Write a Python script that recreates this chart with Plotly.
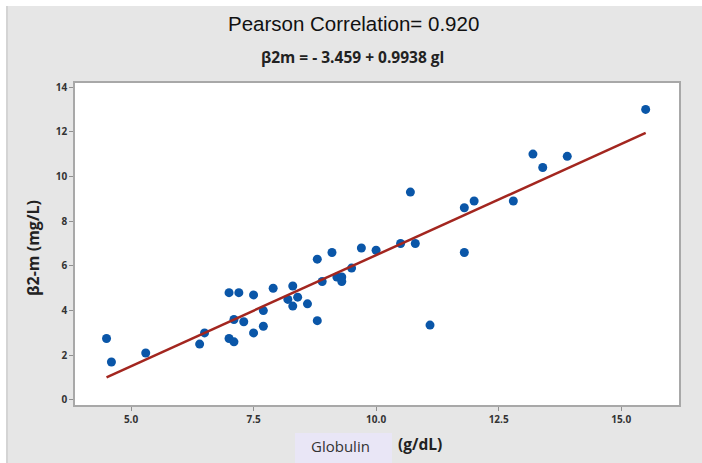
import plotly.graph_objects as go

globulin = [4.5, 4.6, 5.3, 6.4, 6.5, 7.0, 7.2, 7.0, 7.1, 7.1, 7.3, 7.5, 7.5, 7.7, 7.7,
            7.9, 8.2, 8.3, 8.3, 8.4, 8.6, 8.8, 8.8, 8.9, 9.1, 9.2, 9.3, 9.3, 9.5, 9.7,
            10.0, 10.5, 10.8, 10.7, 11.1, 11.8, 11.8, 12.0, 12.8, 13.2, 13.4, 13.9, 15.5]
b2m = [2.75, 1.7, 2.1, 2.5, 3.0, 4.8, 4.8, 2.75, 2.6, 3.6, 3.5, 4.7, 3.0, 4.0, 3.3,
       5.0, 4.5, 5.1, 4.2, 4.6, 4.3, 6.3, 3.55, 5.3, 6.6, 5.5, 5.5, 5.3, 5.9, 6.8,
       6.7, 7.0, 7.0, 9.3, 3.35, 8.6, 6.6, 8.9, 8.9, 11.0, 10.4, 10.9, 13.0]
intercept = -3.459
slope = 0.9938
fit_x = [min(globulin), max(globulin)]
fit_y = [intercept + slope * v for v in fit_x]
x_ticks = [5.0, 7.5, 10.0, 12.5, 15.0]
x_tick_labels = ["5.0", "7.5", "10.0", "12.5", "15.0"]
y_ticks = [0, 2, 4, 6, 8, 10, 12, 14]

W, H = 702, 463
L, R, T, B = 75, 23, 83, 58
pw, ph = W - L - R, H - T - B

def px(xp):
    return (xp - L) / pw

def py(yp):
    return (H - B - yp) / ph

fig = go.Figure()
fig.add_trace(go.Scatter(x=globulin, y=b2m, mode="markers",
                         marker=dict(color="#0a56a8", size=9, line=dict(width=0)),
                         showlegend=False))
fig.add_trace(go.Scatter(x=fit_x, y=fit_y, mode="lines",
                         line=dict(color="#a3261f", width=2.5),
                         showlegend=False))

axis_common = dict(showgrid=False, zeroline=False, showline=True, mirror=True,
                   linecolor="#a8a8a8", linewidth=1.5, ticks="outside", ticklen=4,
                   tickcolor="#909090",
                   tickfont=dict(family="Open Sans", size=10, color="#333333", weight="bold"))

fig.update_xaxes(range=[3.857, 16.18], tickvals=x_ticks, ticktext=x_tick_labels, **axis_common)
fig.update_yaxes(range=[-0.224, 14.18], tickvals=y_ticks, **axis_common)

shapes = [
    dict(type="rect", xref="paper", yref="paper", x0=px(0), x1=px(W), y0=py(0), y1=py(6),
         fillcolor="white", line=dict(width=0), layer="below"),
    dict(type="rect", xref="paper", yref="paper", x0=px(0), x1=px(6), y0=py(0), y1=py(H),
         fillcolor="white", line=dict(width=0), layer="below"),
    dict(type="rect", xref="paper", yref="paper", x0=px(6), x1=px(8), y0=py(6), y1=py(H),
         fillcolor="#d4d4d4", line=dict(width=0), layer="below"),
    dict(type="rect", xref="paper", yref="paper", x0=px(295), x1=px(392), y0=py(433), y1=py(H),
         fillcolor="#e9e6f6", line=dict(width=0), layer="below"),
]

ann_common = dict(xref="paper", yref="paper", showarrow=False, xanchor="center", yanchor="middle")
annotations = [
    dict(text="Pearson Correlation= 0.920", x=px(353), y=py(23),
         font=dict(family="Liberation Sans", size=20.5, color="#111111"), **ann_common),
    dict(text="β2m = - 3.459 + 0.9938 gl", x=px(352), y=py(57),
         font=dict(family="Open Sans", size=15.5, color="#222222", weight="bold"), **ann_common),
    dict(text="β2-m (mg/L)", x=px(33), y=py(248), textangle=-90,
         font=dict(family="Open Sans", size=16, color="#222222", weight="bold"), **ann_common),
    dict(text="Globulin", x=px(340), y=py(446),
         font=dict(family="Open Sans", size=15, color="#333333"), **ann_common),
    dict(text="(g/dL)", x=px(420), y=py(444),
         font=dict(family="Open Sans", size=15.5, color="#222222", weight="bold"), **ann_common),
]

fig.update_layout(width=W, height=H, margin=dict(l=L, r=R, t=T, b=B, pad=0),
                  paper_bgcolor="#e6e6e6", plot_bgcolor="white",
                  shapes=shapes, annotations=annotations)

fig.write_html("out.html", config={"displayModeBar": False},
               post_script="document.body.style.margin='0px';document.body.style.padding='0px';")
